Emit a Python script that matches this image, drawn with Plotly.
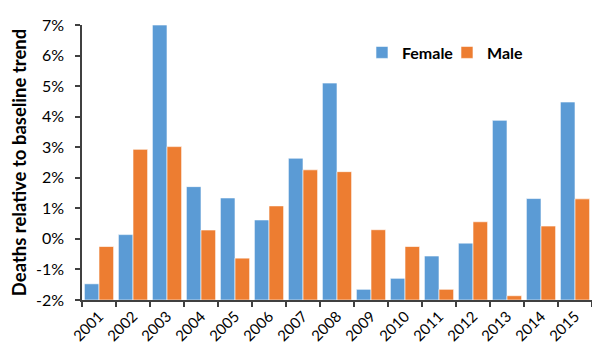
import plotly.graph_objects as go

years = [str(y) for y in range(2001, 2016)]
female = [-1.47, 0.14, 7.0, 1.71, 1.34, 0.62, 2.64, 5.1, -1.65, -1.29, -0.56, -0.14, 3.88, 1.32, 4.48]
male = [-0.25, 2.93, 3.02, 0.29, -0.63, 1.08, 2.26, 2.2, 0.30, -0.25, -1.65, 0.56, -1.86, 0.42, 1.31]
y_ticks = [-2, -1, 0, 1, 2, 3, 4, 5, 6, 7]
y_tick_labels = [f"{v}%" for v in y_ticks]

BASE = -2
FONT = "Lato, 'Open Sans', sans-serif"

fig = go.Figure()
fig.add_trace(go.Bar(
    name="Female", x=years, y=[v - BASE for v in female], base=BASE,
    marker=dict(color="#5B9BD5", line=dict(color="rgba(255,255,255,0.6)", width=1)),
))
fig.add_trace(go.Bar(
    name="Male", x=years, y=[v - BASE for v in male], base=BASE,
    marker=dict(color="#ED7D31", line=dict(color="rgba(255,255,255,0.6)", width=1)),
))

# page body has an 8px default margin, so margins are shifted to compensate
fig.update_layout(
    width=600, height=355,
    margin=dict(l=74, r=16, t=17, b=63, autoexpand=False),
    paper_bgcolor="white", plot_bgcolor="white",
    barmode="group", bargap=0.14, bargroupgap=0,
    font=dict(family=FONT, color="#000000"),
    legend=dict(
        orientation="h", x=0.549, y=0.9, xanchor="left", yanchor="middle",
        font=dict(size=16, family=FONT, color="#000000", weight="bold"),
        bgcolor="rgba(0,0,0,0)", itemwidth=30, tracegroupgap=0,
        entrywidth=40, entrywidthmode="pixels",
    ),
    showlegend=True,
)
fig.update_xaxes(
    type="category", showline=True, linecolor="#404040", linewidth=1.5,
    ticks="outside", tickson="boundaries", ticklen=5, tickcolor="#404040", tickwidth=1.5,
    tickangle=-45, tickfont=dict(size=15, family=FONT, color="#000000"),
    showgrid=False, zeroline=False, automargin=False,
)
fig.update_yaxes(
    range=[-2, 7], showline=True, linecolor="#404040", linewidth=1.5,
    ticks="outside", ticklen=5, tickcolor="#404040", tickwidth=1.5,
    tickvals=y_ticks, ticktext=y_tick_labels, ticklabelstandoff=8,
    tickfont=dict(size=16, family=FONT, color="#000000"),
    showgrid=False, zeroline=False, automargin=False,
    title=dict(text="Deaths relative to baseline trend", standoff=6,
               font=dict(size=18.5, family=FONT, color="#000000", weight="bold")),
)

fig.write_html("out.html")
